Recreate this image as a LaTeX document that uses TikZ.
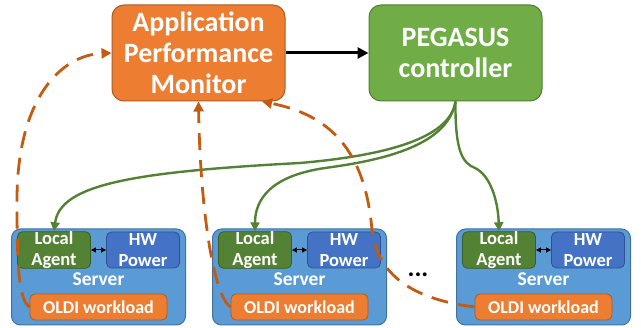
\documentclass[tikz,border=0pt]{standalone}
\usepackage{fontspec}
\setmainfont{Carlito}
\usetikzlibrary{arrows.meta}

\definecolor{apmfill}{HTML}{ED7D31}
\definecolor{apmline}{HTML}{AE5A21}
\definecolor{pegfill}{HTML}{70AD47}
\definecolor{pegline}{HTML}{507E32}
\definecolor{srvfill}{HTML}{5B9BD5}
\definecolor{srvline}{HTML}{41719C}
\definecolor{agentfill}{HTML}{548235}
\definecolor{agentline}{HTML}{3B5E25}
\definecolor{hwfill}{HTML}{4472C4}
\definecolor{hwline}{HTML}{2F528F}
\definecolor{feedback}{HTML}{C55A11}
\definecolor{control}{HTML}{548235}

\tikzset{
  bigbox/.style={rounded corners=12pt, line width=1pt, minimum width=173pt,
    minimum height=96pt, inner sep=0pt, align=center, text=white,
    font=\bfseries\fontsize{28}{31}\selectfont},
  serverbox/.style={rounded corners=9pt, line width=1pt, fill=srvfill, draw=srvline,
    minimum width=174pt, minimum height=96pt, inner sep=0pt},
  innerbox/.style={rounded corners=5pt, line width=0.8pt, minimum width=73pt,
    minimum height=36pt, inner sep=0pt, align=center, text=white,
    font=\bfseries\fontsize{18.5}{20.5}\selectfont},
  oldibox/.style={rounded corners=5pt, line width=0.8pt, fill=apmfill, draw=apmline,
    minimum width=137pt, minimum height=26pt, inner sep=0pt, text=white,
    font=\bfseries\fontsize{18}{20}\selectfont},
  srvlabel/.style={text=white, inner sep=0pt, font=\bfseries\fontsize{19.5}{20}\selectfont},
  fbarrow/.style={draw=feedback, line width=2.8pt, dash pattern=on 17pt off 10pt,
    -{Triangle[length=10pt,width=10pt]}},
  ctrlarrow/.style={draw=control, line width=2.4pt,
    -{Triangle[length=9pt,width=9pt]}},
  linkarrow/.style={line width=1pt, {Triangle[length=5pt,width=5pt]}-{Triangle[length=5pt,width=5pt]}}
}

\begin{document}
\begin{tikzpicture}[x=1pt,y=-1pt]
\useasboundingbox (0,0) rectangle (641,328);

% top-level boxes
\node[bigbox, fill=apmfill, draw=apmline] (apm) at (198.5,53) {Application\\Performance\\Monitor};
\node[bigbox, fill=pegfill, draw=pegline] (peg) at (455.5,53) {PEGASUS\\controller};
\draw[line width=3pt, -{Triangle[length=11pt,width=11pt]}] (apm.east) -- (peg.west);

% servers
\foreach \i/\x in {1/98.5, 2/299.5, 3/543.5} {
  \node[serverbox] (s\i) at (\x,277) {};
  \node[innerbox, fill=agentfill, draw=agentline] (la\i) at (\x-44.5,250) {Local\\Agent};
  \node[innerbox, fill=hwfill, draw=hwline] (hw\i) at (\x+44.5,250) {HW\\Power};
  \node[srvlabel] (lbl\i) at (\x,279) {Server};
  \node[oldibox] (oldi\i) at (\x,307) {OLDI workload};
  \draw[linkarrow] (la\i.east) -- (hw\i.west);
}

\node[inner sep=0pt, font=\bfseries\fontsize{26}{26}\selectfont] (dots) at (418,275) {...};

% controller to local agents
\draw[ctrlarrow] (peg.south) .. controls (450,140) and (380,156) .. (300,163)
  .. controls (130,172) and (60,185) .. (la1.north);
\draw[ctrlarrow] (peg.south) .. controls (448,145) and (385,160) .. (325,168)
  .. controls (270,176) and (255,200) .. (la2.north);
\draw[ctrlarrow] (peg.south) .. controls (455,150) and (462,163) .. (475,168)
  .. controls (490,175) and (498,200) .. (la3.north);

% workload feedback to the monitor
\draw[fbarrow] (oldi1.west) .. controls (18,300) and (17,260) .. (17,200)
  .. controls (17,100) and (60,55) .. (apm.west);
\draw[fbarrow] (oldi2.west) .. controls (212,295) and (200,200) .. (apm.south);
\draw[fbarrow] (oldi3.west) .. controls (420,300) and (378,280) .. (372,230)
  .. controls (365,150) and (330,115) .. ([xshift=63.5pt]apm.south);
\end{tikzpicture}
\end{document}
